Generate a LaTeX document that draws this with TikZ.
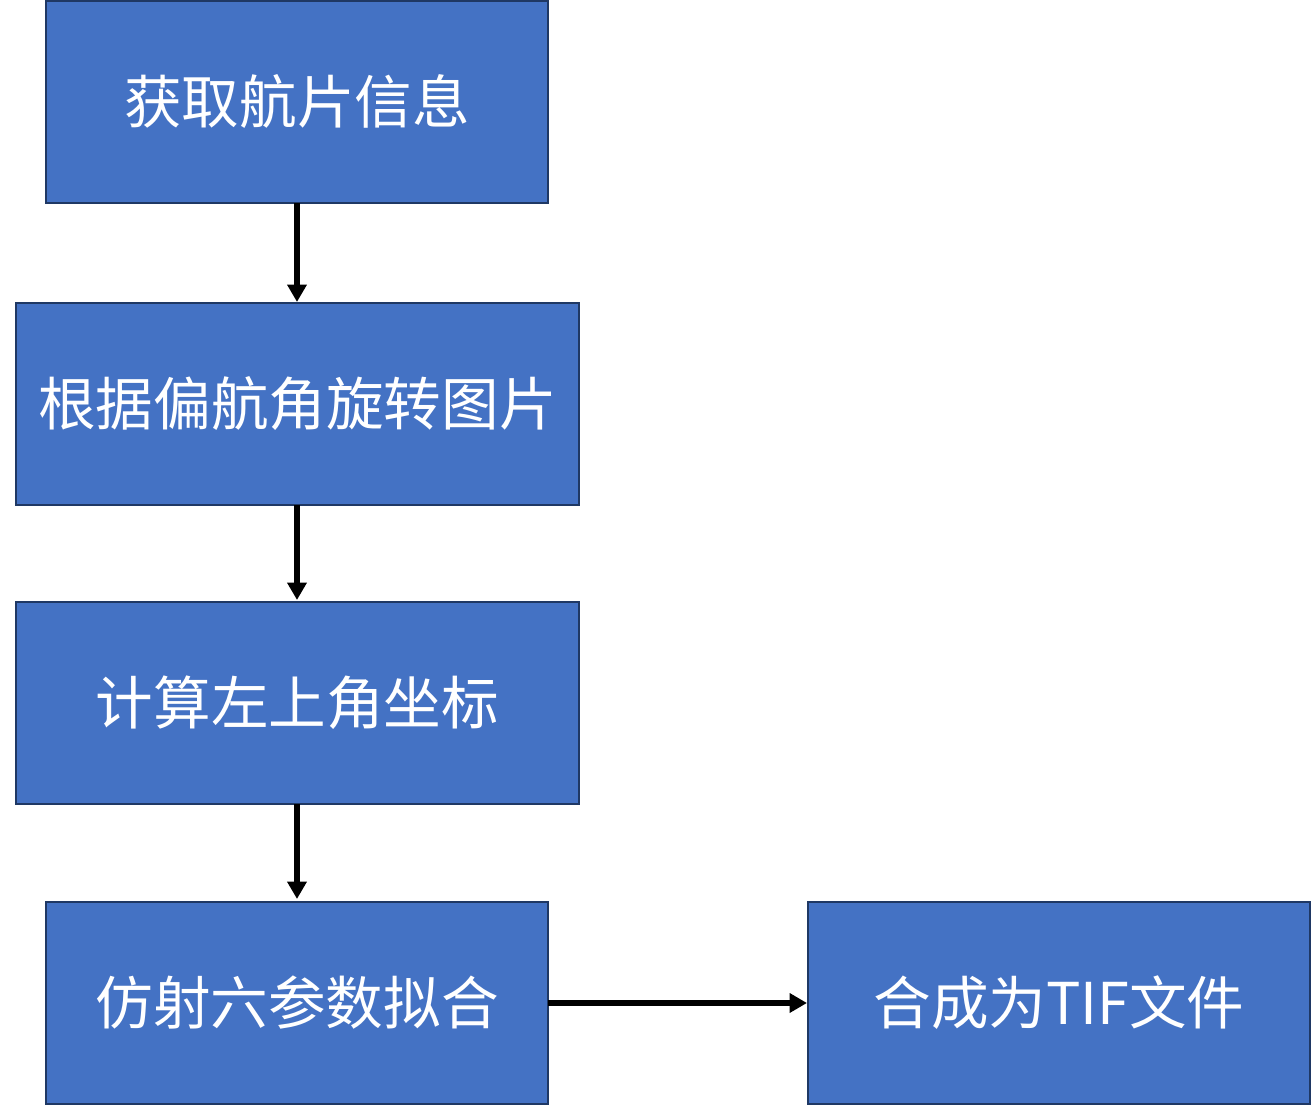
\documentclass[tikz,border=0pt]{standalone}
\usepackage{fontspec}
\newfontfamily\cjk{Noto Sans CJK SC}
\usetikzlibrary{arrows.meta}
\definecolor{boxfill}{HTML}{4472C4}
\definecolor{boxline}{HTML}{1F3864}
\begin{document}
\begin{tikzpicture}[x=0.75pt,y=-0.75pt,
  stepbox/.style={draw=boxline,line width=1.5pt,fill=boxfill,text=white,
    font=\cjk\fontsize{43.2}{50}\selectfont,inner sep=0pt},
  conn/.style={line width=3.9pt,-{Triangle[length=13pt,width=14pt]}}]
\useasboundingbox (0,0) rectangle (1311,1105);
\path[stepbox] (46,1) rectangle (548,203) node[midway] (a) {获取航片信息};
\path[stepbox] (16,303) rectangle (579,505) node[midway] (b) {根据偏航角旋转图片};
\path[stepbox] (16,602) rectangle (579,804) node[midway] (c) {计算左上角坐标};
\path[stepbox] (46,902) rectangle (548,1104) node[midway] (d) {仿射六参数拟合};
\path[stepbox] (808,902) rectangle (1310,1104) node[midway] (e) {合成为TIF文件};
\coordinate (a1) at (297,203); \coordinate (b0) at (297,302);
\coordinate (b1) at (297,505); \coordinate (c0) at (297,600);
\coordinate (c1) at (297,804); \coordinate (d0) at (297,899);
\coordinate (d1) at (548,1003); \coordinate (e0) at (807,1003);
\draw[conn] (a1) -- (b0);
\draw[conn] (b1) -- (c0);
\draw[conn] (c1) -- (d0);
\draw[conn] (d1) -- (e0);
\end{tikzpicture}
\end{document}
